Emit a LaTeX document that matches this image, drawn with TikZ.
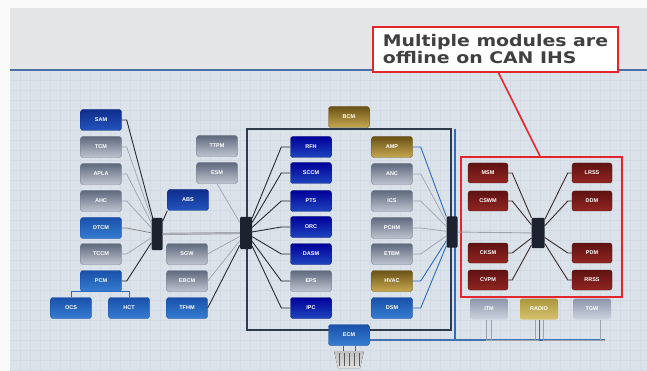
\documentclass[tikz,border=0pt]{standalone}
\usepackage{fontspec}
\usepackage{graphicx}
\setsansfont{Liberation Sans}
\newfontfamily\callfont{DejaVu Sans}
\definecolor{bgtop}{HTML}{E3E5E7}
\definecolor{bgbot}{HTML}{DCE2E9}
\definecolor{gridc}{HTML}{D2DAE3}
\definecolor{topline}{HTML}{4A6FA8}
\definecolor{framec}{HTML}{2F3A4A}
\definecolor{hubc}{HTML}{1C2230}
\definecolor{wdarkc}{HTML}{262B36}
\definecolor{wgrayc}{HTML}{9AA3B0}
\definecolor{wbluec}{HTML}{2B6CC0}
\definecolor{wredc}{HTML}{3B2A2A}
\definecolor{redc}{HTML}{E3262E}
\definecolor{notetext}{HTML}{404040}
\begin{document}
\begin{tikzpicture}[x=1pt,y=-1pt,
  box/.style={rounded corners=2.5pt, minimum width=41pt, minimum height=21pt, inner sep=0pt,
    text=white, font=\sffamily\bfseries\fontsize{5.5}{6}\selectfont},
  dbluebox/.style={box, top color=blue!60!black, bottom color={rgb,255:red,30;green,70;blue,190}, draw={rgb,255:red,20;green,40;blue,120}},
  bluebox/.style={box, top color={rgb,255:red,15;green,45;blue,140}, bottom color={rgb,255:red,35;green,85;blue,190}, draw={rgb,255:red,20;green,50;blue,130}},
  lbluebox/.style={box, top color={rgb,255:red,25;green,80;blue,170}, bottom color={rgb,255:red,55;green,125;blue,210}, draw={rgb,255:red,30;green,80;blue,160}},
  graybox/.style={box, top color={rgb,255:red,95;green,105;blue,125}, bottom color={rgb,255:red,190;green,196;blue,208}, draw={rgb,255:red,120;green,128;blue,145}},
  goldbox/.style={box, top color={rgb,255:red,105;green,82;blue,22}, bottom color={rgb,255:red,200;green,168;blue,80}, draw={rgb,255:red,110;green,88;blue,30}},
  redbox/.style={box, minimum width=40pt, minimum height=20pt, top color={rgb,255:red,95;green,18;blue,18}, bottom color={rgb,255:red,145;green,38;blue,34}, draw={rgb,255:red,90;green,20;blue,20}},
  fadegray/.style={box, minimum width=38pt, top color={rgb,255:red,140;green,150;blue,170}, bottom color={rgb,255:red,205;green,212;blue,225}, draw=none},
  fadegold/.style={box, minimum width=38pt, top color={rgb,255:red,170;green,150;blue,60}, bottom color={rgb,255:red,215;green,195;blue,110}, draw=none},
  hub/.style={fill=hubc, inner sep=0pt, rounded corners=1pt},
  wdark/.style={draw=wdarkc, line width=0.9pt},
  wgray/.style={draw=wgrayc, line width=0.7pt},
  wblue/.style={draw=wbluec, line width=0.9pt},
  wred/.style={draw=wredc, line width=0.9pt}
]
\useasboundingbox (0,0) rectangle (647,371);
% background
\fill[white!96!gray] (0,0) rectangle (647,371);
\fill[bgtop] (10,8) rectangle (647,71);
\fill[bgbot] (10,71) rectangle (647,371);
\foreach \i in {20,30,...,640} \draw[gridc, line width=0.3pt] (\i,71) -- (\i,371);
\foreach \j in {80,90,...,370} \draw[gridc, line width=0.3pt] (10,\j) -- (647,\j);
\draw[topline, line width=1.5pt] (10,70) -- (647,70);

% frames
\node[draw=framec, line width=1.1pt, minimum width=204pt, minimum height=201pt, inner sep=0pt] (frame) at (349,229.5) {};
\draw[wbluec, line width=1.1pt] (455,129) -- (455,340);
\node[draw=redc, line width=1.6pt, minimum width=161pt, minimum height=140pt, inner sep=0pt] (redframe) at (541.5,227) {};

% left column
\node[bluebox] (SAM) at (101,120) {SAM};
\node[graybox] (TCM) at (101,147) {TCM};
\node[graybox] (APLA) at (101,174) {APLA};
\node[graybox] (AHC) at (101,201) {AHC};
\node[lbluebox] (DTCM) at (101,228) {DTCM};
\node[graybox] (TCCM) at (101,254) {TCCM};
\node[lbluebox] (PCM) at (101,281) {PCM};
\node[lbluebox] (OCS) at (71,308) {OCS};
\node[lbluebox] (HCT) at (129,308) {HCT};
\node[hub, minimum width=11pt, minimum height=32pt] (h1) at (157,234) {};
% second column
\node[bluebox] (ABS) at (188,200) {ABS};
\node[graybox] (TTPM) at (217,146) {TTPM};
\node[graybox] (ESM) at (217,173) {ESM};
\node[graybox] (SGW) at (187,254) {SGW};
\node[graybox] (EBCM) at (187,281) {EBCM};
\node[lbluebox] (TFHM) at (187,308) {TFHM};
\node[hub, minimum width=12pt, minimum height=32pt] (h2) at (246,233) {};
% middle column
\node[goldbox] (BCM) at (349,117) {BCM};
\node[dbluebox] (RFH) at (311,147) {RFH};
\node[dbluebox] (SCCM) at (311,173) {SCCM};
\node[dbluebox] (PTS) at (311,201) {PTS};
\node[dbluebox] (ORC) at (311,227) {ORC};
\node[dbluebox] (DASM) at (311,254) {DASM};
\node[graybox] (EPS) at (311,281) {EPS};
\node[dbluebox] (IPC) at (311,308) {IPC};
\node[lbluebox] (ECM) at (349,335) {ECM};
% right-middle column
\node[goldbox] (AMP) at (392,147) {AMP};
\node[graybox] (ANC) at (392,174) {ANC};
\node[graybox] (ICS) at (392,201) {ICS};
\node[graybox] (PCHM) at (392,228) {PCHM};
\node[graybox] (ETBM) at (392,254) {ETBM};
\node[goldbox] (HVAC) at (392,281) {HVAC};
\node[lbluebox] (DSM) at (392,308) {DSM};
\node[hub, minimum width=11pt, minimum height=31pt] (h3) at (452,232) {};
% red group
\node[redbox] (MSM) at (488,173) {MSM};
\node[redbox] (CSWM) at (488,201) {CSWM};
\node[redbox] (CKSM) at (488,253) {CKSM};
\node[redbox] (CVPM) at (488,280) {CVPM};
\node[redbox] (LRSS) at (592,173) {LRSS};
\node[redbox] (DDM) at (592,201) {DDM};
\node[redbox] (PDM) at (592,253) {PDM};
\node[redbox] (RRSS) at (592,280) {RRSS};
\node[hub, minimum width=13pt, minimum height=30pt] (h4) at (538,233) {};
% bottom right
\node[fadegray] (ITM) at (489,309) {ITM};
\node[fadegold] (RADIO) at (539,309) {RADIO};
\node[fadegray] (TGW) at (592,309) {TGW};
\coordinate (busend) at (605,340);

% wires: hub 1
\draw[wdark] (SAM.east) -- ++(5,0) -- (h1);
\draw[wgray] (TCM.east) -- ++(5,0) -- (h1);
\draw[wgray] (APLA.east) -- ++(5,0) -- (h1);
\draw[wgray] (AHC.east) -- ++(5,0) -- (h1);
\draw[wgray, draw=gray] (DTCM.east) -- ++(5,0) -- (h1);
\draw[wgray] (TCCM.east) -- ++(5,0) -- (h1);
\draw[wdark] (PCM.east) -- ++(5,0) -- (h1);
\draw[wblue] (OCS.north) |- (PCM.south) -| (HCT.north);
\draw[wdark] (h1) -- (ABS.south west);
\draw[wgray, line width=0.6pt, double=gray!60, double distance=1pt] (h1) -- (h2);
% hub 2
\draw[wgray] (ESM.south) -- (h2);
\draw[wgray] (SGW.east) -- (h2);
\draw[wgray] (EBCM.east) -- (h2);
\draw[wdark] (TFHM.east) -- (h2);
\foreach \n in {RFH,SCCM,PTS,ORC,DASM,EPS,IPC}
  \draw[wdark] (h2) -- ([xshift=-9pt]\n.west) -- (\n.west);
% hub 3
\draw[wblue] (AMP.east) -- ++(8,0) -- (h3);
\draw[wgray] (ANC.east) -- ++(8,0) -- (h3);
\draw[wgray] (ICS.east) -- ++(8,0) -- (h3);
\draw[wgray] (PCHM.east) -- ++(8,0) -- (h3);
\draw[wgray] (ETBM.east) -- ++(8,0) -- (h3);
\draw[wblue] (HVAC.east) -- ++(8,0) -- (h3);
\draw[wblue] (DSM.east) -- ++(8,0) -- (h3);
\draw[wgray, line width=0.9pt] (h3) -- (h4);
% hub 4
\foreach \n in {MSM,CSWM,CKSM,CVPM}
  \draw[wred] (\n.east) -- ++(4,0) -- (h4);
\foreach \n in {LRSS,DDM,PDM,RRSS}
  \draw[wred] (\n.west) -- ++(-4,0) -- (h4);
% bottom bus
\draw[wbluec!70!gray, line width=1.3pt] ([yshift=-5pt]ECM.east) -- (busend);
\draw[wgray, line width=0.8pt] ([xshift=-3pt]ITM.south) |- (busend);
\draw[wgray, line width=0.8pt] ([xshift=2pt]ITM.south) |- (busend);
\draw[wgray, line width=0.8pt] ([xshift=-4pt]RADIO.south) |- (busend);
\draw[wblue, line width=0.8pt] (RADIO.south) |- (busend);
\draw[wgray, line width=0.8pt] ([xshift=4pt]RADIO.south) |- (busend);
\draw[wgray, line width=0.8pt] ([xshift=8pt]TGW.south) |- (busend);
% diagnostic connector below ECM
\fill[top color=gray!50, bottom color=gray!25] (334,351) -- (364,351) -- (360,368) -- (338,368) -- cycle;
\foreach \s in {339,344,...,359} \draw[gray!70!black, line width=0.5pt] (\s,353) -- (\s,366);
\draw[wblue] ([xshift=-6pt]ECM.south) -- ++(0,5);
\draw[wblue] ([xshift=6pt]ECM.south) -- ++(0,5);

% callout
\node[draw=redc, line width=1.6pt, fill=white, minimum width=245pt, minimum height=45pt, inner sep=0pt,
  align=left, text=notetext, font=\callfont\bfseries\fontsize{16}{17}\selectfont] (note) at (495.5,49.5)
  {\scalebox{1.18}[1]{Multiple modules are}\\\scalebox{1.18}[1]{offline on CAN IHS}};
\draw[redc, line width=1.6pt] ([xshift=3pt]note.south) -- ([xshift=-1.5pt]redframe.north);
\end{tikzpicture}
\end{document}
